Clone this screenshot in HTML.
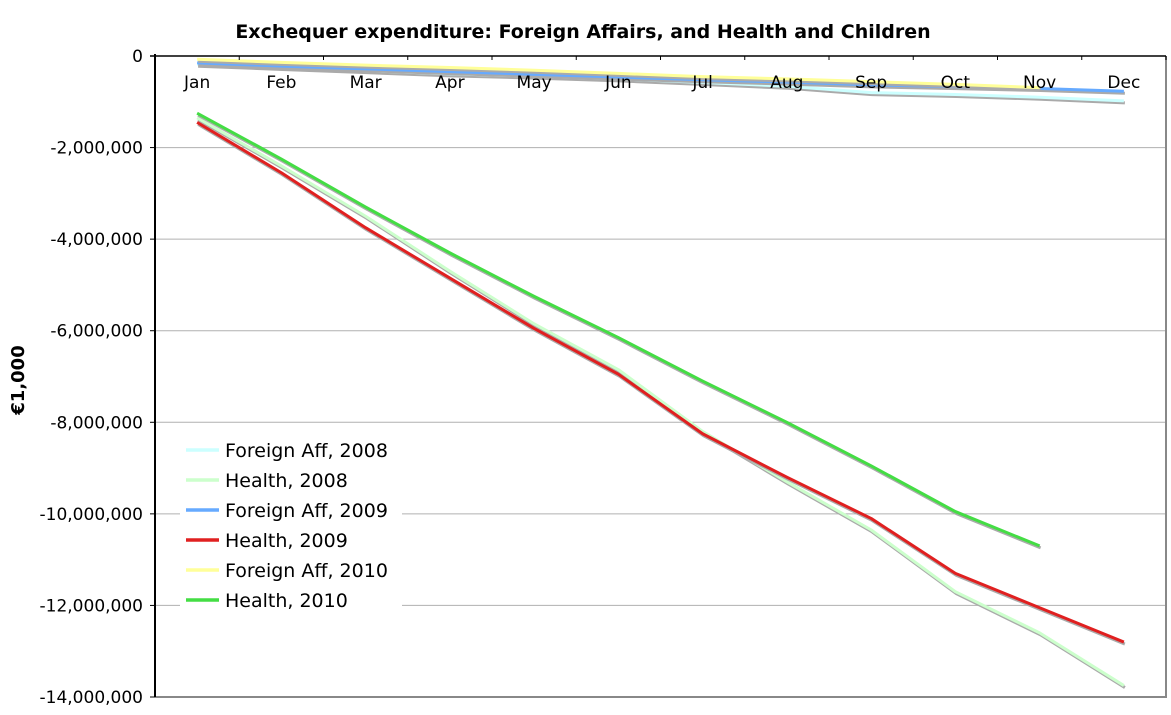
<!DOCTYPE html>
<html><head><meta charset="utf-8"><style>
body{margin:0;background:#fff;}
svg text{font-family:"DejaVu Sans","Liberation Sans",sans-serif;}
</style></head><body>
<svg id="chart" width="1171" height="710" xmlns="http://www.w3.org/2000/svg">
<text x="583" y="38" text-anchor="middle" font-size="19" font-weight="bold">Exchequer expenditure: Foreign Affairs, and Health and Children</text>
<text transform="translate(24,380) rotate(-90)" text-anchor="middle" font-size="18" font-weight="bold">€1,000</text>
<g id="grid"></g><g id="series"></g><g id="axes"></g><g id="legend"></g>
</svg>
<script>
const months=["Jan","Feb","Mar","Apr","May","Jun","Jul","Aug","Sep","Oct","Nov","Dec"];
const yTicks=[0,-2000000,-4000000,-6000000,-8000000,-10000000,-12000000,-14000000];
const yTickLabels=["0","-2,000,000","-4,000,000","-6,000,000","-8,000,000","-10,000,000","-12,000,000","-14,000,000"];
const seriesNames=["Foreign Aff, 2008","Health, 2008","Foreign Aff, 2009","Health, 2009","Foreign Aff, 2010","Health, 2010"];
const seriesColors=["#ccffff","#ccffcc","#66aaff","#e02020","#ffff99","#44dd44"];
const fa2008=[-180000,-250000,-320000,-390000,-440000,-500000,-580000,-660000,-800000,-840000,-900000,-980000];
const health2008=[-1350000,-2400000,-3500000,-4700000,-5850000,-6850000,-8200000,-9300000,-10350000,-11700000,-12600000,-13750000];
const fa2009=[-150000,-220000,-280000,-340000,-400000,-460000,-520000,-570000,-630000,-670000,-710000,-770000];
const health2009=[-1450000,-2550000,-3750000,-4850000,-5950000,-6950000,-8250000,-9200000,-10100000,-11300000,-12050000,-12800000];
const fa2010=[-70000,-140000,-200000,-250000,-310000,-380000,-450000,-500000,-560000,-620000,-690000];
const health2010=[-1250000,-2250000,-3300000,-4300000,-5250000,-6150000,-7100000,-8000000,-8950000,-9950000,-10700000];
const allSeries=[fa2008,health2008,fa2009,health2009,fa2010,health2010];
const drawOrder=[1,3,5,0,2,4];
const L=155,R=1166,T=56,B=697,ymin=-14000000,ymax=0;
const band=(R-L)/months.length;
const X=i=>L+band*(i+0.5);
const Y=v=>T+(ymax-v)/(ymax-ymin)*(B-T);
const NS="http://www.w3.org/2000/svg";
function mk(tag,attrs,parent){const e=document.createElementNS(NS,tag);for(const k in attrs)e.setAttribute(k,attrs[k]);parent.appendChild(e);return e;}
const grid=document.getElementById('grid'),axes=document.getElementById('axes'),ser=document.getElementById('series'),leg=document.getElementById('legend');
yTicks.forEach((v,i)=>{
 if(v!==0&&v!==ymin){const g=mk('line',{x1:L,x2:R,y1:Y(v),y2:Y(v),stroke:'#b0b0b0','stroke-width':1},grid);
 
 }
 const t=mk('text',{x:L-12,y:Y(v)+6,'text-anchor':'end','font-size':17},axes);t.textContent=yTickLabels[i];
 
 
 mk('line',{x1:L-5,x2:L,y1:Y(v),y2:Y(v),stroke:'#000'},axes);
});
mk('line',{x1:R,x2:R,y1:T,y2:B+1,stroke:'#888','stroke-width':2},axes);
mk('line',{x1:L,x2:R,y1:B,y2:B,stroke:'#888','stroke-width':2},axes);
mk('line',{x1:L,x2:L,y1:T-2,y2:B,stroke:'#000','stroke-width':2},axes);
mk('line',{x1:L-5,x2:R,y1:Y(0),y2:Y(0),stroke:'#000','stroke-width':1.5},axes);
months.forEach((m,i)=>{
 mk('line',{x1:L+band*(i+1),x2:L+band*(i+1),y1:T,y2:T+4,stroke:'#000'},axes);
 const t=mk('text',{x:X(i),y:88,'text-anchor':'middle','font-size':17},axes);t.textContent=m;
 
 
});
drawOrder.forEach(s=>{
 const pts=allSeries[s].map((v,i)=>X(i)+','+Y(v)).join(' ');
 const sh=mk('polyline',{points:allSeries[s].map((v,i)=>(X(i)+1)+','+(Y(v)+2)).join(' '),fill:'none',stroke:'#aaa','stroke-width':3,'stroke-linejoin':'round'},ser);
 
 
 const p=mk('polyline',{points:pts,fill:'none',stroke:seriesColors[s],'stroke-width':3,'stroke-linejoin':'round'},ser);
 
 
});
const lb=mk('rect',{x:180,y:430,width:222,height:182,fill:'#fff'},leg);


seriesNames.forEach((n,i)=>{
 const y=450+i*30;
 mk('line',{x1:186,x2:219,y1:y,y2:y,stroke:seriesColors[i],'stroke-width':3.5},leg);
 const t=mk('text',{x:225,y:y+7,'font-size':19},leg);t.textContent=n;
 
 
});
</script>
</body></html>
